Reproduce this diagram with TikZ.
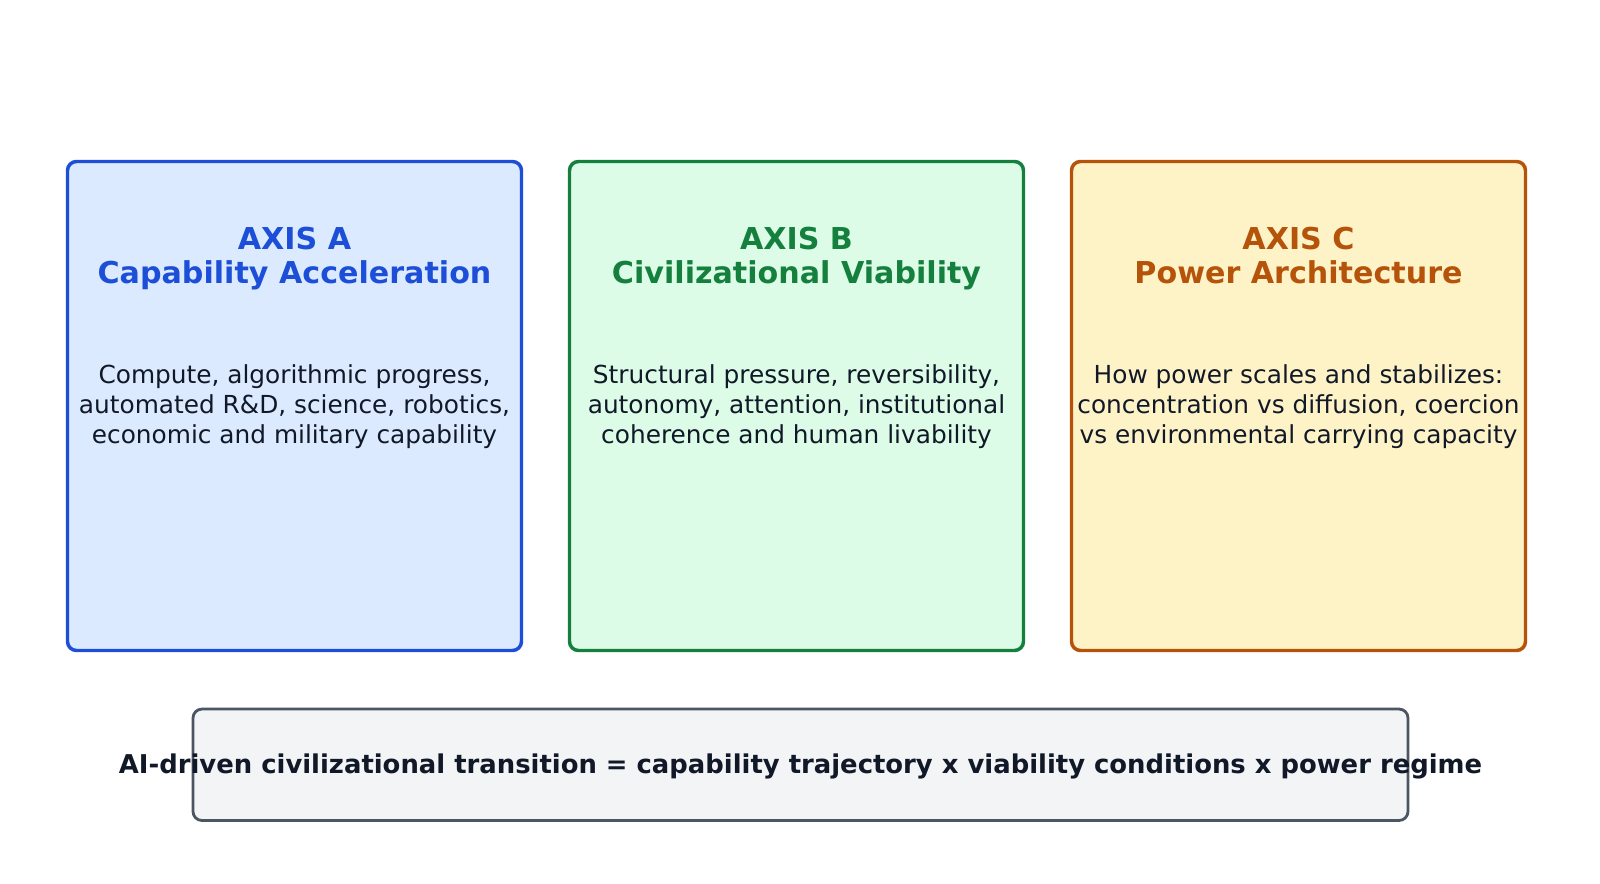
\documentclass[tikz,border=0pt]{standalone}
\usepackage{fontspec}
\setmainfont{DejaVu Sans}
\definecolor{blueC}{HTML}{1D4ED8}
\definecolor{blueF}{HTML}{DBEAFE}
\definecolor{greenC}{HTML}{15803D}
\definecolor{greenF}{HTML}{DCFCE7}
\definecolor{orangeC}{HTML}{B45309}
\definecolor{orangeF}{HTML}{FEF3C7}
\definecolor{grayC}{HTML}{4B5563}
\definecolor{grayF}{HTML}{F3F4F6}
\definecolor{ink}{HTML}{111827}
\tikzset{
  axisbox/.style={draw, rounded corners=6.75pt, line width=2.6pt, minimum width=340.5pt, minimum height=366.75pt, inner sep=0pt},
  axistitle/.style={anchor=base, font=\fontsize{22.6}{26}\selectfont\bfseries, inner sep=0pt},
  axisbody/.style={anchor=base, text=ink, font=\fontsize{18.6}{22}\selectfont, inner sep=0pt},
  sumbox/.style={draw=grayC, fill=grayF, rounded corners=6.75pt, line width=2.1pt, minimum width=911.25pt, minimum height=83.6pt, inner sep=0pt},
  sumtext/.style={anchor=base, text=ink, font=\fontsize{19.4}{23}\selectfont\bfseries, inner sep=0pt}
}
\begin{document}
\begin{tikzpicture}[x=0.75pt,y=-0.75pt]
\useasboundingbox (0,0) rectangle (1600,883);
\node[axisbox, draw=blueC, fill=blueF] (boxA) at (294.5,406) {};
\node[axisbox, draw=greenC, fill=greenF] (boxB) at (796.5,406) {};
\node[axisbox, draw=orangeC, fill=orangeF] (boxC) at (1298.5,406) {};
\node[axistitle, text=blueC] (titleA1) at (294.5,249) {AXIS A};
\node[axistitle, text=blueC] (titleA2) at (294.5,283.5) {Capability Acceleration};
\node[axistitle, text=greenC] (titleB1) at (796.5,249) {AXIS B};
\node[axistitle, text=greenC] (titleB2) at (796.5,283.5) {Civilizational Viability};
\node[axistitle, text=orangeC] (titleC1) at (1298.5,249) {AXIS C};
\node[axistitle, text=orangeC] (titleC2) at (1298.5,283.5) {Power Architecture};
\node[axisbody] (bodyA1) at (294.5,383.3) {Compute, algorithmic progress,};
\node[axisbody] (bodyA2) at (294.5,413.3) {automated R\&D, science, robotics,};
\node[axisbody] (bodyA3) at (294.5,443.3) {economic and military capability};
\node[axisbody] (bodyB1) at (796.5,383.3) {Structural pressure, reversibility,};
\node[axisbody] (bodyB2) at (796.5,413.3) {autonomy, attention, institutional};
\node[axisbody] (bodyB3) at (796.5,443.3) {coherence and human livability};
\node[axisbody] (bodyC1) at (1298.5,383.3) {How power scales and stabilizes:};
\node[axisbody] (bodyC2) at (1298.5,413.3) {concentration vs diffusion, coercion};
\node[axisbody] (bodyC3) at (1298.5,443.3) {vs environmental carrying capacity};
\node[sumbox] (sum) at (800.5,764.75) {};
\node[sumtext] (sumT) at (800.5,773) {AI-driven civilizational transition = capability trajectory x viability conditions x power regime};
\end{tikzpicture}
\end{document}
